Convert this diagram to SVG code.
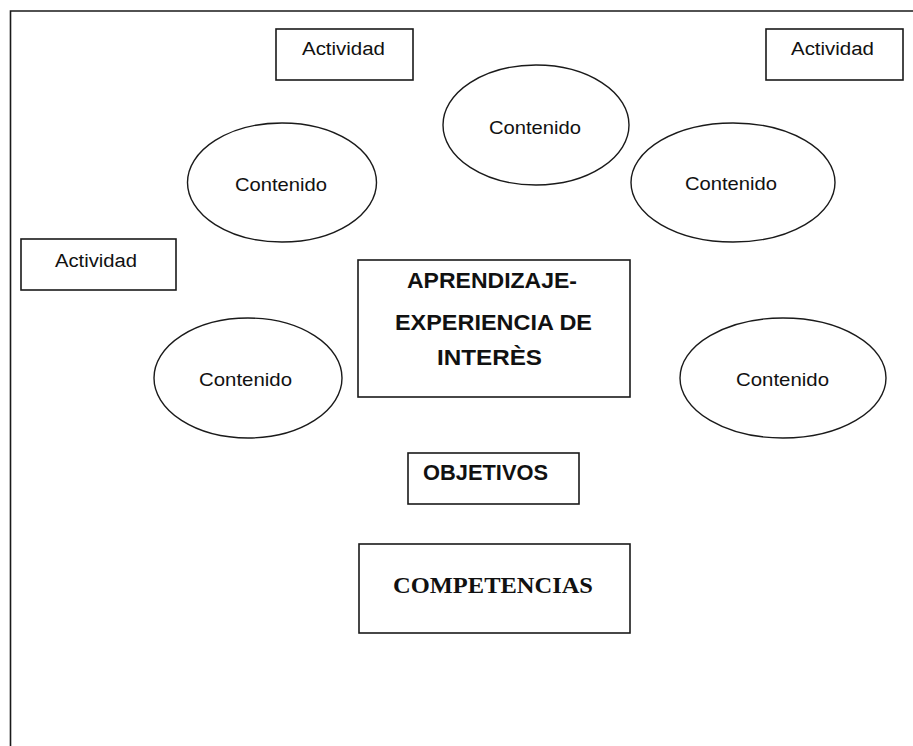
<svg xmlns="http://www.w3.org/2000/svg" width="913" height="746" viewBox="0 0 913 746">
<style>
.box{fill:#fff;stroke:#1a1a1a;stroke-width:1.6}
.ell{fill:#fff;stroke:#1a1a1a;stroke-width:1.4}
.frame{fill:none;stroke:#1a1a1a;stroke-width:1.6}
.sm{font-family:"Liberation Sans",Arial,sans-serif;font-size:18px;fill:#111}
.ct{font-family:"Liberation Sans",Arial,sans-serif;font-size:19px;fill:#111}
.bd{font-family:"Liberation Sans",Arial,sans-serif;font-size:22px;font-weight:bold;fill:#111}
.sf{font-family:"Liberation Serif","Times New Roman",serif;font-size:23px;font-weight:bold;fill:#111}
</style>
<rect width="913" height="746" fill="#fff"/>
<g id="frame"><path class="frame" d="M10.5,746 V11 H913"/></g>
<g id="connectors"></g>
<g id="act1"><rect class="box" x="276" y="29" width="137" height="51"/><text class="sm" x="302" y="55" textLength="83" lengthAdjust="spacingAndGlyphs">Actividad</text></g>
<g id="act2"><rect class="box" x="766" y="29" width="137" height="51"/><text class="sm" x="791" y="55" textLength="83" lengthAdjust="spacingAndGlyphs">Actividad</text></g>
<g id="act3"><rect class="box" x="21" y="239" width="155" height="51"/><text class="sm" x="55" y="267" textLength="82" lengthAdjust="spacingAndGlyphs">Actividad</text></g>
<g id="cont1"><ellipse class="ell" cx="282" cy="182.5" rx="94.5" ry="59.5"/><text class="ct" x="235" y="191" textLength="92" lengthAdjust="spacingAndGlyphs">Contenido</text></g>
<g id="cont2"><ellipse class="ell" cx="536" cy="125" rx="93" ry="60"/><text class="ct" x="489" y="134" textLength="92" lengthAdjust="spacingAndGlyphs">Contenido</text></g>
<g id="cont3"><ellipse class="ell" cx="733" cy="182.5" rx="102" ry="59.5"/><text class="ct" x="685" y="190" textLength="92" lengthAdjust="spacingAndGlyphs">Contenido</text></g>
<g id="cont4"><ellipse class="ell" cx="248" cy="378" rx="94" ry="60"/><text class="ct" x="199" y="386" textLength="93" lengthAdjust="spacingAndGlyphs">Contenido</text></g>
<g id="cont5"><ellipse class="ell" cx="783" cy="378" rx="103" ry="60"/><text class="ct" x="736" y="386" textLength="93" lengthAdjust="spacingAndGlyphs">Contenido</text></g>
<g id="aprendizaje"><rect class="box" x="358" y="260" width="272" height="137"/>
<text class="bd" x="407" y="288" textLength="170" lengthAdjust="spacingAndGlyphs">APRENDIZAJE-</text>
<text class="bd" x="395" y="330" textLength="197" lengthAdjust="spacingAndGlyphs">EXPERIENCIA DE</text>
<text class="bd" x="437" y="365" textLength="105" lengthAdjust="spacingAndGlyphs">INTERÈS</text></g>
<g id="objetivos"><rect class="box" x="408" y="453" width="171" height="51"/><text class="bd" x="423" y="480" textLength="125" lengthAdjust="spacingAndGlyphs">OBJETIVOS</text></g>
<g id="competencias"><rect class="box" x="359" y="544" width="271" height="89"/><text class="sf" x="393" y="593" textLength="200" lengthAdjust="spacingAndGlyphs">COMPETENCIAS</text></g>
</svg>
